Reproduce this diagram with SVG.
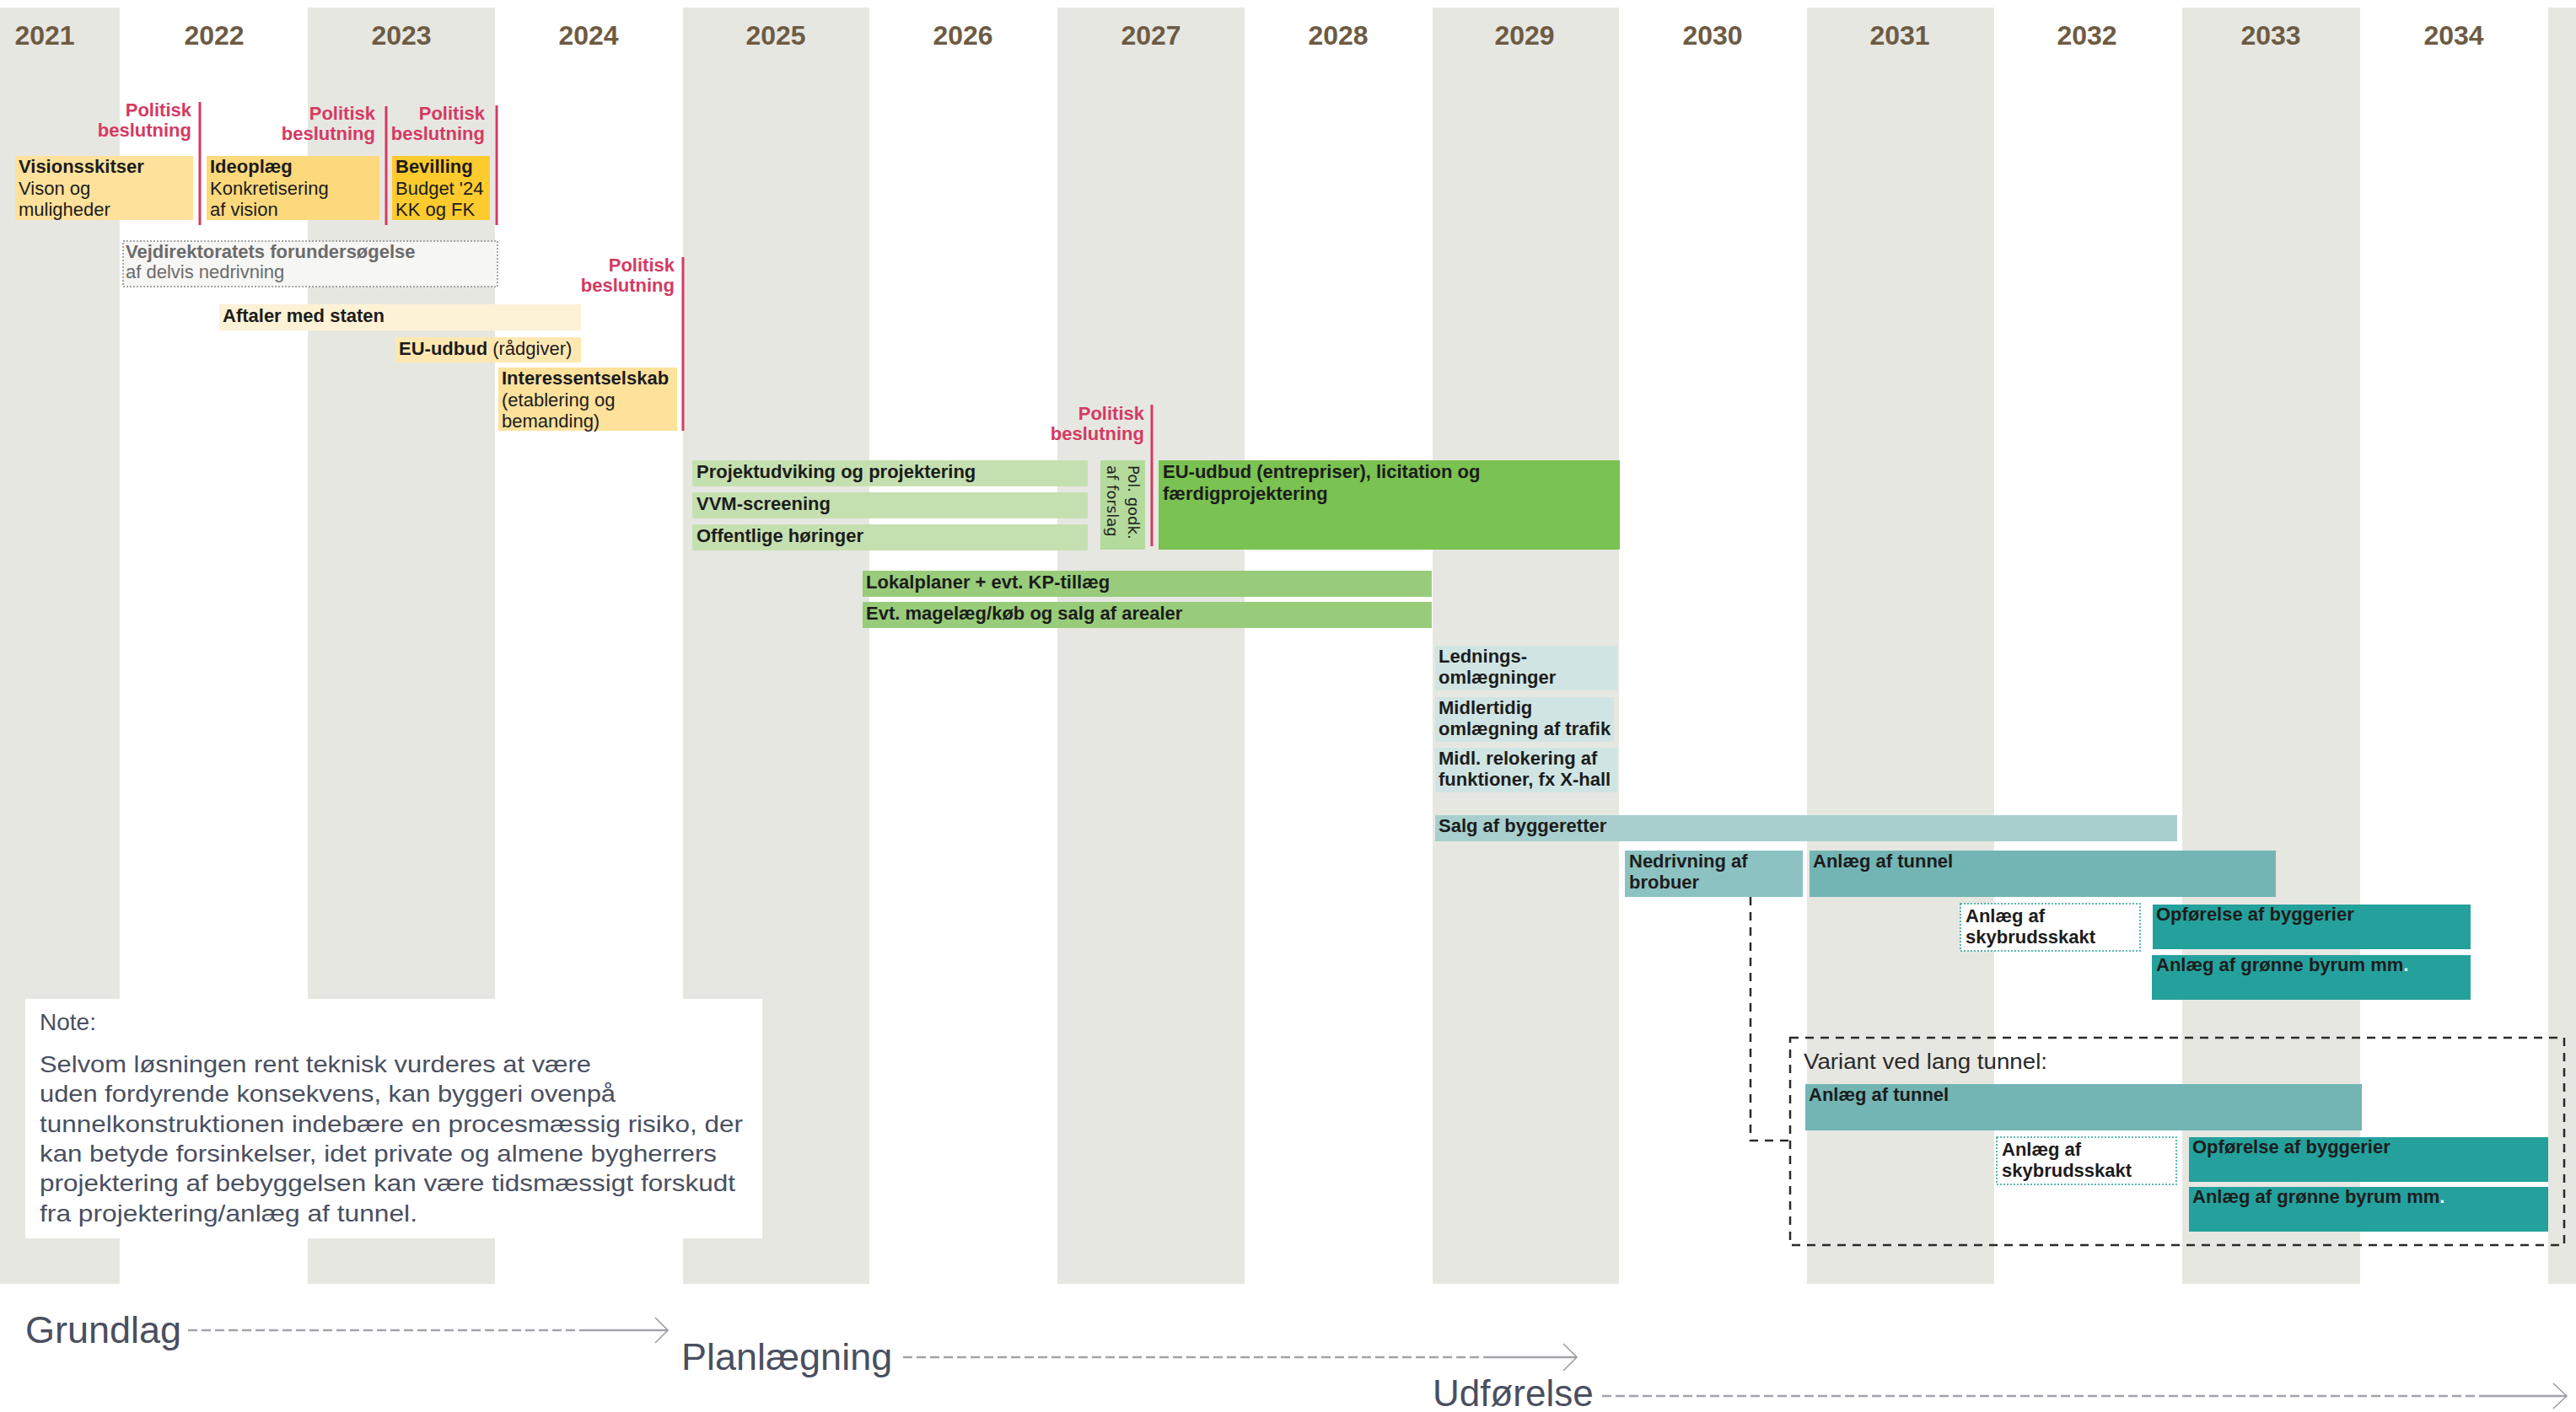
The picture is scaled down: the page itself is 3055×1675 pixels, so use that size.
<svg xmlns="http://www.w3.org/2000/svg" width="3055" height="1675" viewBox="0 0 3055 1675">
<style>
text{font-family:"Liberation Sans",Arial,sans-serif;}
.col{fill:#e7e7e2;}
.yr{font-size:32px;font-weight:bold;fill:#6d5b43;text-anchor:middle;}
.pol{font-size:22px;font-weight:bold;fill:#d43a62;text-anchor:end;}
.pl{stroke:#d43a62;stroke-width:3;fill:none;}
.b{font-size:22px;font-weight:bold;fill:#1c1c1c;}
.r{font-weight:normal;}
.note{font-size:28px;fill:#4a4f5f;}
.ph{font-size:45px;fill:#4a4f5f;}
.arr{stroke:#a3a3ab;stroke-width:2.5;fill:none;}
.dash{stroke-dasharray:11 5;}
.chev{stroke:#9a9aa3;stroke-width:1.5;fill:none;}
.blk{stroke:#2a2a2a;stroke-width:2.5;fill:none;stroke-dasharray:10 8;}
</style>
<rect width="3055" height="1675" fill="#ffffff"/>
<g id="columns">
<rect class="col" x="0" y="9" width="142" height="1514"/>
<rect class="col" x="365" y="9" width="222" height="1514"/>
<rect class="col" x="810" y="9" width="221" height="1514"/>
<rect class="col" x="1254" y="9" width="222" height="1514"/>
<rect class="col" x="1699" y="9" width="221" height="1514"/>
<rect class="col" x="2143" y="9" width="222" height="1514"/>
<rect class="col" x="2588" y="9" width="211" height="1514"/>
<rect class="col" x="3022" y="9" width="33" height="1514"/>
</g>
<g id="years">
<text class="yr" x="53" y="53">2021</text>
<text class="yr" x="254" y="53">2022</text>
<text class="yr" x="476" y="53">2023</text>
<text class="yr" x="698" y="53">2024</text>
<text class="yr" x="920" y="53">2025</text>
<text class="yr" x="1142" y="53">2026</text>
<text class="yr" x="1365" y="53">2027</text>
<text class="yr" x="1587" y="53">2028</text>
<text class="yr" x="1808" y="53">2029</text>
<text class="yr" x="2031" y="53">2030</text>
<text class="yr" x="2253" y="53">2031</text>
<text class="yr" x="2475" y="53">2032</text>
<text class="yr" x="2693" y="53">2033</text>
<text class="yr" x="2910" y="53">2034</text>
</g>
<g id="decision1"><text class="pol" x="227" y="138">Politisk</text><text class="pol" x="227" y="162">beslutning</text><line class="pl" x1="237" y1="121" x2="237" y2="267"/></g>
<g id="decision2"><text class="pol" x="445" y="142">Politisk</text><text class="pol" x="445" y="166">beslutning</text><line class="pl" x1="458" y1="126" x2="458" y2="267"/></g>
<g id="decision3"><text class="pol" x="575" y="142">Politisk</text><text class="pol" x="575" y="166">beslutning</text><line class="pl" x1="589" y1="125" x2="589" y2="267"/></g>
<g id="decision4"><text class="pol" x="800" y="322">Politisk</text><text class="pol" x="800" y="346">beslutning</text><line class="pl" x1="810" y1="305" x2="810" y2="511"/></g>
<g id="decision5"><text class="pol" x="1357" y="498">Politisk</text><text class="pol" x="1357" y="522">beslutning</text><line class="pl" x1="1366" y1="480" x2="1366" y2="648"/></g>

<g id="visionsskitser"><rect x="18" y="185" width="211" height="76" fill="#fee19b"/><text class="b" x="22" y="205">Visionsskitser</text><text class="b r" x="22" y="231">Vison og</text><text class="b r" x="22" y="256">muligheder</text></g>
<g id="ideoplaeg"><rect x="245" y="185" width="205" height="76" fill="#fdd97e"/><text class="b" x="249" y="205">Ideoplæg</text><text class="b r" x="249" y="231">Konkretisering</text><text class="b r" x="249" y="256">af vision</text></g>
<g id="bevilling"><rect x="465" y="185" width="116" height="76" fill="#fecb2e"/><text class="b" x="469" y="205">Bevilling</text><text class="b r" x="469" y="231">Budget '24</text><text class="b r" x="469" y="256">KK og FK</text></g>
<g id="vejdirektoratet"><rect x="146" y="286" width="444" height="54" fill="#f6f6f4" stroke="#8a8a8a" stroke-width="1.5" stroke-dasharray="2 2"/><text class="b" x="149" y="306" style="fill:#6b6b6b">Vejdirektoratets forundersøgelse</text><text class="b r" x="149" y="330" style="fill:#6b6b6b">af delvis nedrivning</text></g>
<g id="aftaler"><rect x="260" y="361" width="429" height="31" fill="#fdf2d6"/><text class="b" x="264" y="382">Aftaler med staten</text></g>
<g id="euudbud-raadgiver"><rect x="469" y="400" width="220" height="30" fill="#fde8b2"/><text class="b" x="473" y="421">EU-udbud<tspan class="r"> (rådgiver)</tspan></text></g>
<g id="interessentselskab"><rect x="591" y="436" width="212" height="75" fill="#fee19b"/><text class="b" x="595" y="456">Interessentselskab</text><text class="b r" x="595" y="482">(etablering og</text><text class="b r" x="595" y="507">bemanding)</text></g>

<g id="projektudvikling"><rect x="821" y="546" width="469" height="31" fill="#c5e0b0"/><text class="b" x="826" y="567">Projektudviking og projektering</text></g>
<g id="vvm"><rect x="821" y="584" width="469" height="31" fill="#c5e0b0"/><text class="b" x="826" y="605">VVM-screening</text></g>
<g id="hoeringer"><rect x="821" y="622" width="469" height="31" fill="#c5e0b0"/><text class="b" x="826" y="643">Offentlige høringer</text></g>
<g id="polgodk"><rect x="1305" y="546" width="53" height="106" fill="#b4da9c"/><text transform="translate(1338,552) rotate(90)" style="font-family:'DejaVu Sans',Verdana,sans-serif;font-size:18px;fill:#222">Pol. godk.</text><text transform="translate(1313,552) rotate(90)" style="font-family:'DejaVu Sans',Verdana,sans-serif;font-size:18px;fill:#222">af forslag</text></g>
<g id="euudbud-entrepriser"><rect x="1374" y="546" width="547" height="106" fill="#7ac251"/><text class="b" x="1379" y="567">EU-udbud (entrepriser), licitation og</text><text class="b" x="1379" y="593">færdigprojektering</text></g>
<g id="lokalplaner"><rect x="1023" y="677" width="675" height="31" fill="#98cc7a"/><text class="b" x="1027" y="698">Lokalplaner + evt. KP-tillæg</text></g>
<g id="magelaeg"><rect x="1023" y="714" width="675" height="31" fill="#98cc7a"/><text class="b" x="1027" y="735">Evt. magelæg/køb og salg af arealer</text></g>

<g id="ledninger"><rect x="1702" y="766" width="216" height="53" fill="#d0e5e3"/><text class="b" x="1706" y="786">Lednings-</text><text class="b" x="1706" y="811">omlægninger</text></g>
<g id="midlertidig"><rect x="1702" y="827" width="212" height="53" fill="#d0e5e3"/><text class="b" x="1706" y="847">Midlertidig</text><text class="b" x="1706" y="872">omlægning af trafik</text></g>
<g id="relokering"><rect x="1702" y="887" width="216" height="53" fill="#d0e5e3"/><text class="b" x="1706" y="907">Midl. relokering af</text><text class="b" x="1706" y="932">funktioner, fx X-hall</text></g>
<g id="salg"><rect x="1702" y="967" width="880" height="31" fill="#a8cfcd"/><text class="b" x="1706" y="987">Salg af byggeretter</text></g>
<g id="nedrivning"><rect x="1927" y="1009" width="211" height="55" fill="#8cc2c2"/><text class="b" x="1932" y="1029">Nedrivning af</text><text class="b" x="1932" y="1054">brobuer</text></g>
<g id="tunnel"><rect x="2146" y="1009" width="553" height="55" fill="#72b5b4"/><text class="b" x="2150" y="1029">Anlæg af tunnel</text></g>
<g id="skybrud"><rect x="2325" y="1072" width="213" height="56" fill="#ffffff" stroke="#26a19c" stroke-width="1.5" stroke-dasharray="2 2"/><text class="b" x="2331" y="1094">Anlæg af</text><text class="b" x="2331" y="1119">skybrudsskakt</text></g>
<g id="opfoerelse"><rect x="2553" y="1073" width="377" height="53" fill="#24a19c"/><text class="b" x="2557" y="1092">Opførelse af byggerier</text></g>
<g id="groenne"><rect x="2552" y="1133" width="378" height="53" fill="#24a19c"/><text class="b" x="2557" y="1152">Anlæg af grønne byrum mm<tspan style="fill:#ffffff">.</tspan></text></g>

<g id="note"><rect x="30" y="1185" width="874" height="284" fill="#ffffff"/>
<text class="note" x="47" y="1222">Note:</text>
<text class="note" x="47" y="1272" textLength="654" lengthAdjust="spacingAndGlyphs">Selvom løsningen rent teknisk vurderes at være</text>
<text class="note" x="47" y="1307" textLength="683" lengthAdjust="spacingAndGlyphs">uden fordyrende konsekvens, kan byggeri ovenpå</text>
<text class="note" x="47" y="1343" textLength="834" lengthAdjust="spacingAndGlyphs">tunnelkonstruktionen indebære en procesmæssig risiko, der</text>
<text class="note" x="47" y="1378" textLength="803" lengthAdjust="spacingAndGlyphs">kan betyde forsinkelser, idet private og almene bygherrers</text>
<text class="note" x="47" y="1413" textLength="825" lengthAdjust="spacingAndGlyphs">projektering af bebyggelsen kan være tidsmæssigt forskudt</text>
<text class="note" x="47" y="1449" textLength="448" lengthAdjust="spacingAndGlyphs">fra projektering/anlæg af tunnel.</text>
</g>

<g id="variant"><rect class="blk" x="2123" y="1231" width="918" height="246"/>
<text x="2139" y="1268" style="font-size:26px;fill:#2a2a2a" textLength="289" lengthAdjust="spacingAndGlyphs">Variant ved lang tunnel:</text></g>
<g id="tunnel-v"><rect x="2141" y="1286" width="660" height="55" fill="#72b5b4"/><text class="b" x="2145" y="1306">Anlæg af tunnel</text></g>
<g id="skybrud-v"><rect x="2368" y="1349" width="213" height="56" fill="#ffffff" stroke="#26a19c" stroke-width="1.5" stroke-dasharray="2 2"/><text class="b" x="2374" y="1371">Anlæg af</text><text class="b" x="2374" y="1396">skybrudsskakt</text></g>
<g id="opfoerelse-v"><rect x="2596" y="1349" width="426" height="53" fill="#24a19c"/><text class="b" x="2600" y="1368">Opførelse af byggerier</text></g>
<g id="groenne-v"><rect x="2596" y="1408" width="426" height="53" fill="#24a19c"/><text class="b" x="2600" y="1427">Anlæg af grønne byrum mm<tspan style="fill:#ffffff">.</tspan></text></g>

<g id="connectors">
<path class="blk" d="M2076,1064 V1353 H2123"/>
</g>

<g id="phase-grundlag"><text class="ph" x="30" y="1593">Grundlag</text><line class="arr dash" x1="223" y1="1578" x2="691" y2="1578"/><line class="arr" x1="691" y1="1578" x2="792" y2="1578"/><polyline class="chev" points="777,1563 792,1578 777,1593"/></g>
<g id="phase-planlaegning"><text class="ph" x="808" y="1625">Planlægning</text><line class="arr dash" x1="1071" y1="1610" x2="1763" y2="1610"/><line class="arr" x1="1763" y1="1610" x2="1870" y2="1610"/><polyline class="chev" points="1854,1594 1870,1610 1854,1626"/></g>
<g id="phase-udfoerelse"><text class="ph" x="1699" y="1668" style="font-size:44px">Udførelse</text><line class="arr dash" x1="1900" y1="1656" x2="2942" y2="1656"/><line class="arr" x1="2942" y1="1656" x2="3044" y2="1656"/><polyline class="chev" points="3028,1641 3044,1656 3028,1671"/></g>
</svg>
